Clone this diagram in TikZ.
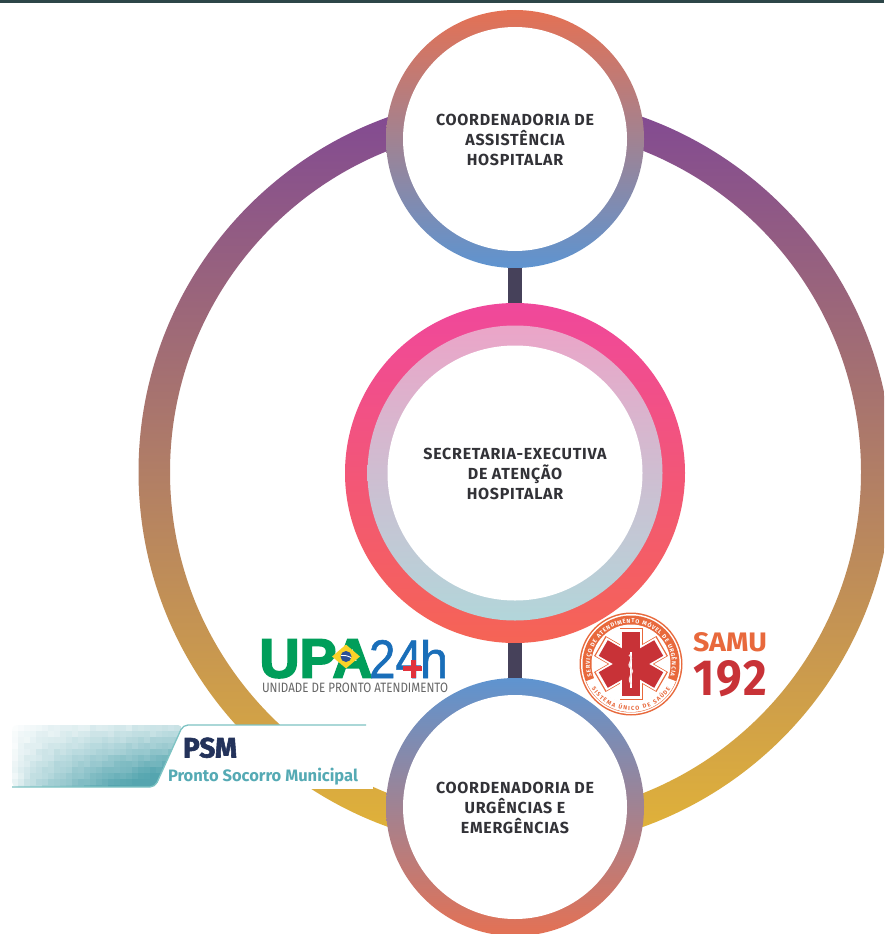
\documentclass[tikz,border=0pt]{standalone}
\usepackage{fontspec}
\setmainfont{Fira Sans}
\usetikzlibrary{calc,decorations.text,shapes.geometric}
\definecolor{barc}{RGB}{45,70,72}
\definecolor{linkc}{RGB}{70,65,90}
\definecolor{purp}{RGB}{128,72,148}
\definecolor{gold}{RGB}{226,180,55}
\definecolor{coral}{RGB}{228,113,84}
\definecolor{bluec}{RGB}{94,148,208}
\definecolor{pinkc}{RGB}{240,72,155}
\definecolor{redc}{RGB}{245,100,85}
\definecolor{midt}{RGB}{235,165,200}
\definecolor{midb}{RGB}{178,214,218}
\definecolor{txt}{RGB}{50,50,55}
\definecolor{upag}{RGB}{0,158,90}
\definecolor{upab}{RGB}{25,110,185}
\definecolor{upar}{RGB}{225,50,60}
\definecolor{upay}{RGB}{250,210,40}
\definecolor{upan}{RGB}{40,80,150}
\definecolor{samuo}{RGB}{232,105,60}
\definecolor{samur}{RGB}{200,50,55}
\definecolor{psmn}{RGB}{35,50,90}
\definecolor{psmt}{RGB}{85,170,180}
\definecolor{psml}{RGB}{125,195,195}
\definecolor{psmd}{RGB}{85,165,175}
\newfontfamily\labelfont[LetterSpace=4.5,BoldFont={Fira Sans Bold}]{Fira Sans}
\newfontfamily\heavyupa[FakeBold=3]{Liberation Sans Bold}
\newfontfamily\midupa[FakeBold=1]{Liberation Sans}
\newfontfamily\heavysamu[LetterSpace=5]{Fira Sans Bold}
\newfontfamily\heavypsm[FakeBold=2]{Fira Sans Bold}
\tikzset{
  x=1pt,y=1pt,
  disc/.style={circle,inner sep=0pt,outer sep=0pt,minimum size=#1},
  label/.style={disc=#1,fill=none,align=center,text=txt,font=\fontsize{16}{20}\selectfont\labelfont\bfseries},
  link/.style={draw=linkc,line width=14pt},
  logo/.style={inner sep=0pt,outer sep=0pt},
}
\begin{document}
\begin{tikzpicture}
\clip (0,-934) rectangle (884,0);
\fill[white] (0,-934) rectangle (884,0);
\fill[barc] (0,-3.5) rectangle (884,0);
% big ring
\path[even odd rule,top color=purp,bottom color=gold] (515.5,-472) circle[radius=377] (515.5,-472) circle[radius=345.5];
% circles
\node[disc=258pt,top color=coral,bottom color=bluec] (topring) at (515,-139) {};
\node[disc=258pt,top color=bluec,bottom color=coral] (botring) at (515,-807) {};
\node[disc=340pt,top color=pinkc,bottom color=redc] (secouter) at (515,-473) {};
\draw[link] (topring.south) -- (secouter.north);
\draw[link] (secouter.south) -- (botring.north);
\node[disc=295pt,top color=midt,bottom color=midb] (secmid) at (515,-473) {};
\node[disc=224pt,fill=white] (topin) at (515,-139) {};
\node[disc=255pt,fill=white] (secin) at (515,-473) {};
\node[disc=224pt,fill=white] (botin) at (515,-807) {};
\node[label=10pt] (top) at (515,-140) {COORDENADORIA DE\\ASSISTÊNCIA\\HOSPITALAR};
\node[label=10pt] (sec) at (515,-474) {SECRETARIA-EXECUTIVA\\DE ATENÇÃO\\HOSPITALAR};
\node[label=10pt] (bot) at (515,-808) {COORDENADORIA DE\\URGÊNCIAS E\\EMERGÊNCIAS};
% PSM
\fill[white] (12,-725) rectangle (373,-788.5);
\begin{scope}
\clip[rounded corners=5pt] (12,-725) -- (183,-725) -- (155,-787) -- (12,-787) -- cycle;
\pgfmathsetseed{7}
\foreach \i in {0,...,29}{
 \foreach \j in {0,...,10}{
  \pgfmathsetmacro{\cx}{12+6*\i}
  \pgfmathsetmacro{\cy}{725+6*\j}
  \pgfmathsetmacro{\ff}{min(100,max(0,100*pow((\i+0.5)/27,0.6)*(0.3+1.0*\j/10)+3.5*rand))}
  \fill[psmd!\ff!white] (\cx,-\cy) rectangle (\cx+6.4,-\cy-6.4);
 }}
\end{scope}
\draw[psml,line width=1.3pt,rounded corners=5pt] (12,-787) -- (155,-787) -- (183,-725) -- (366,-725);
\node[logo,anchor=south west,text=psmn] (psm) at (183,-758) {\resizebox{54pt}{20pt}{\heavypsm PSM}};
\node[logo,anchor=base west,text=psmt] (psmname) at (168,-781) {\resizebox{190pt}{!}{\fontsize{15}{18}\selectfont\bfseries Pronto Socorro Municipal}};
% UPA
\node[logo,anchor=south west,text=upag] (upa) at (259.5,-678) {\resizebox{113pt}{38pt}{\heavyupa UPA}};
\node[diamond,fill=upay,inner sep=0pt,minimum width=28pt,minimum height=24pt] (flag) at (346,-656.5) {};
\node[disc=11pt,fill=upan] (globe) at (flag) {};
\draw[white,line width=.9pt] (341,-655.5) to[bend left=15] (351,-657.5);
\node[logo,anchor=south west,text=upab] (two) at (369,-678) {\resizebox{53pt}{38pt}{\midupa 24}};
\node[logo,anchor=south west,text=upab] (h) at (420,-678) {\resizebox{28pt}{38pt}{\midupa h}};
\fill[upar] (403,-666) rectangle (422,-671);
\fill[upar] (411,-660) rectangle (416,-678);
\node[logo,anchor=south west,text=black!60] (upasub) at (262,-693) {\resizebox{186pt}{9.5pt}{\fontsize{13}{15}\selectfont UNIDADE DE PRONTO ATENDIMENTO}};
% SAMU
\coordinate (samu) at (631,-664);
\fill[samuo] (samu) circle[radius=51.5];
\fill[white] (samu) circle[radius=50];
\fill[samuo] (samu) circle[radius=48.5];
\fill[white] ($(samu)+(201:48)$) arc[start angle=201,end angle=339,radius=48] -- ($(samu)+(339:39)$) arc[start angle=339,end angle=201,radius=39] -- cycle;
\fill[white] (samu) circle[radius=39.5];
\foreach \a in {90,30,-30}{
  \draw[samuo,line width=23pt] ($(samu)+(\a:36)$) -- ($(samu)+(\a+180:36)$);}
\foreach \a in {90,30,-30}{
  \draw[white,line width=21.5pt] ($(samu)+(\a:34.7)$) -- ($(samu)+(\a+180:34.7)$);}
\foreach \a in {90,30,-30}{
  \draw[samur,line width=18pt] ($(samu)+(\a:32)$) -- ($(samu)+(\a+180:32)$);}
\draw[white,line width=1.2pt] ($(samu)+(0,12)$) -- ($(samu)+(0,-24)$);
\draw[white!85!samur,line width=1.5pt] ($(samu)+(-2,9)$) .. controls ($(samu)+(5,5)$) and ($(samu)+(-6,0)$) .. ($(samu)+(0,-4)$) .. controls ($(samu)+(5,-8)$) and ($(samu)+(-5,-12)$) .. ($(samu)+(0,-20)$);
\path[decorate,decoration={text along path,text align={fit to path},
  text={|\fontsize{5.8}{6}\selectfont\bfseries\color{white}|SERVIÇO DE ATENDIMENTO MÓVEL DE URGÊNCIA}}]
  ($(samu)+(197:41)$) arc[start angle=197,end angle=-17,radius=41];
\path[decorate,decoration={text along path,text align={fit to path},
  text={|\fontsize{5.8}{6}\selectfont\bfseries\color{samuo}|SISTEMA ÚNICO DE SAÚDE}}]
  ($(samu)+(212:46.5)$) arc[start angle=212,end angle=328,radius=46.5];
\node[logo,anchor=south west,text=samuo] (samutxt) at (693,-652) {\resizebox{74pt}{19pt}{\bfseries SAMU}};
\node[logo,anchor=south west,text=samur] (num) at (693,-697) {\resizebox{74pt}{35pt}{\heavysamu 192}};
\end{tikzpicture}
\end{document}
